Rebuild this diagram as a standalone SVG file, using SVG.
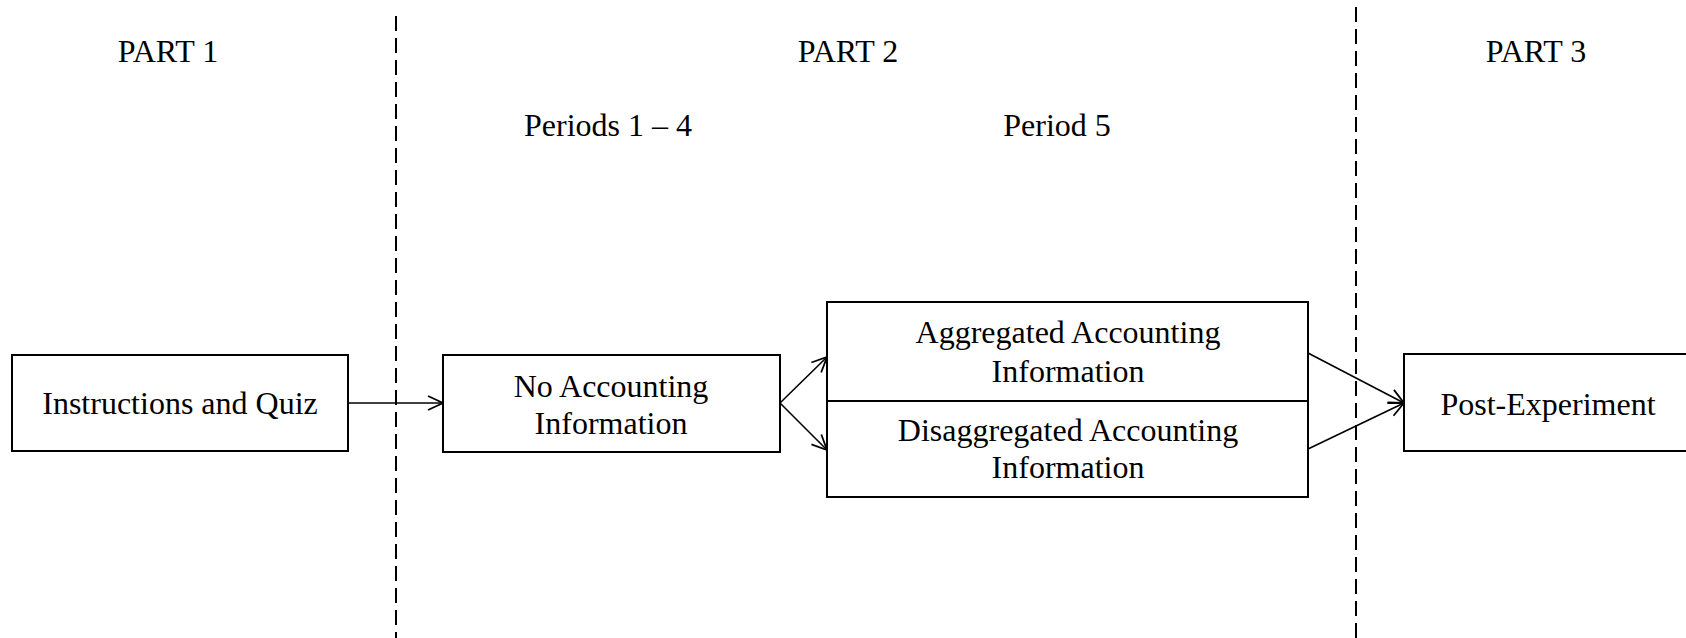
<svg xmlns="http://www.w3.org/2000/svg" width="1686" height="638" viewBox="0 0 1686 638">
<style>
text{font-family:"Liberation Serif","Times New Roman",serif;font-size:32px;fill:#000;text-anchor:middle}
.box{fill:#fff;stroke:#000;stroke-width:2}
.div{stroke:#000;stroke-width:2;stroke-dasharray:15 7;fill:none}
.conn{stroke:#000;stroke-width:1.6;fill:none}
</style>
<defs>
<marker id="arr" markerUnits="userSpaceOnUse" markerWidth="20" markerHeight="20" refX="16" refY="8" orient="auto" viewBox="0 0 20 16">
<path d="M1,1 L16,8 L1,15" fill="none" stroke="#000" stroke-width="1.8"/>
</marker>
</defs>
<rect width="1686" height="638" fill="#fff"/>
<g id="dividers">
<line class="div" x1="396" y1="16" x2="396" y2="638"/>
<line class="div" x1="1356" y1="7" x2="1356" y2="638"/>
</g>
<g id="headers">
<text x="168" y="62">PART 1</text>
<text x="848" y="62">PART 2</text>
<text x="1536" y="62">PART 3</text>
<text x="608" y="136">Periods 1 – 4</text>
<text x="1057" y="136">Period 5</text>
</g>
<g id="connectors">
<line class="conn" x1="348" y1="403" x2="443" y2="403" marker-end="url(#arr)"/>
<line class="conn" x1="780" y1="403" x2="827" y2="357" marker-end="url(#arr)"/>
<line class="conn" x1="780" y1="403" x2="827" y2="450" marker-end="url(#arr)"/>
<line class="conn" x1="1308" y1="353" x2="1404" y2="403" marker-end="url(#arr)"/>
<line class="conn" x1="1308" y1="449" x2="1404" y2="403" marker-end="url(#arr)"/>
</g>
<g id="instructions">
<rect class="box" x="12" y="355" width="336" height="96"/>
<text x="180" y="414">Instructions and Quiz</text>
</g>
<g id="no-accounting">
<rect class="box" x="443" y="355" width="337" height="97"/>
<text x="611" y="397">No Accounting</text>
<text x="611" y="434">Information</text>
</g>
<g id="aggregated">
<rect class="box" x="827" y="302" width="481" height="99"/>
<text x="1068" y="343">Aggregated Accounting</text>
<text x="1068" y="382">Information</text>
</g>
<g id="disaggregated">
<rect class="box" x="827" y="401" width="481" height="96"/>
<text x="1068" y="441">Disaggregated Accounting</text>
<text x="1068" y="478">Information</text>
</g>
<g id="post-experiment">
<rect class="box" x="1404" y="354" width="290" height="97"/>
<text x="1548" y="415">Post-Experiment</text>
</g>
</svg>
